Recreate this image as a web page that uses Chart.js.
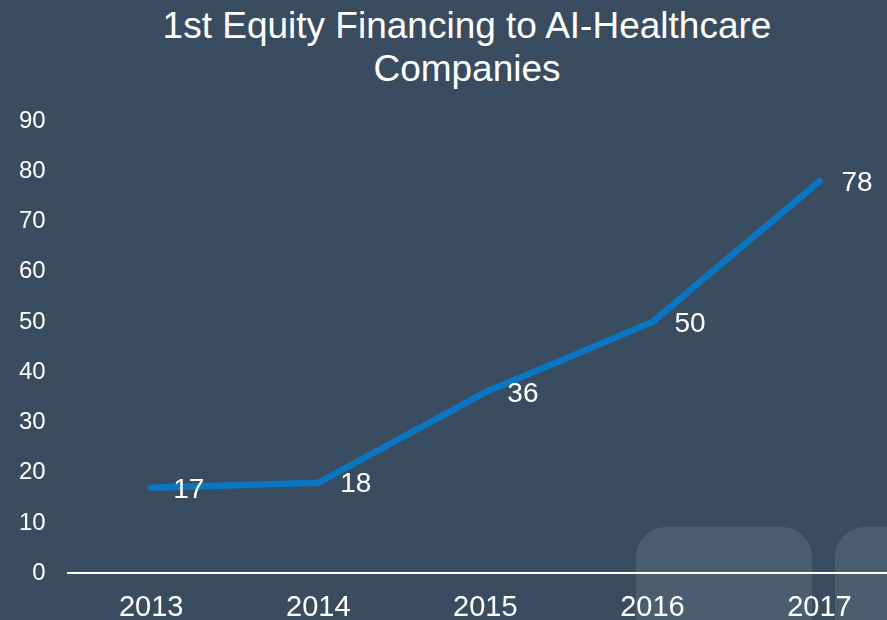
<!DOCTYPE html>
<html>
<head>
<meta charset="utf-8">
<script src="https://cdn.jsdelivr.net/npm/chart.js@4.4.1/dist/chart.umd.min.js"></script>
<style>
  html, body { margin: 0; padding: 0; overflow: hidden; background: #3a4d60; }
  body { width: 887px; height: 620px; position: relative; font-family: "Liberation Sans", Arial, sans-serif; }
  .title {
    position: absolute; left: 0; top: 4px; width: 934px;
    text-align: center; color: #fff; font-size: 37px; line-height: 43px;
  }
  .tile { position: absolute; background: #4b5e70; border-radius: 30px 30px 0 0; }
  #chartWrap { position: absolute; left: -3px; top: 0; }
</style>
</head>
<body>
<div class="tile" style="left:636px; top:527px; width:176px; height:120px;"></div>
<div class="tile" style="left:835px; top:527px; width:120px; height:120px;"></div>
<div class="title">1st Equity Financing to AI-Healthcare<br>Companies</div>
<div id="chartWrap"><canvas id="lineChart" width="906" height="642"></canvas></div>
<script>
const years = ['2013', '2014', '2015', '2016', '2017']
const financings = [17, 18, 36, 50, 78]
const yTicks = [0, 10, 20, 30, 40, 50, 60, 70, 80, 90]

// write the value beside each point
const pointLabels = {
  id: 'pointLabels',
  afterDatasetsDraw(chart) {
    const ctx = chart.ctx
    const meta = chart.getDatasetMeta(0)
    ctx.save()
    ctx.fillStyle = '#ffffff'
    ctx.font = '28px "Liberation Sans", Arial, sans-serif'
    ctx.textAlign = 'left'
    ctx.textBaseline = 'middle'
    meta.data.forEach((pt, i) => {
      ctx.fillText(financings[i], pt.x + 22, pt.y + 2)
    })
    ctx.restore()
  }
}

const data = {
  labels: years,
  datasets: [{
    label: '',
    data: financings,
    borderColor: '#0b77c3',
    borderWidth: 6.5,
    borderCapStyle: 'round',
    borderJoinStyle: 'round',
    pointRadius: 0,
    tension: 0,
    fill: false
  }]
}

const config = {
  type: 'line',
  data: data,
  options: {
    responsive: false,
    animation: false,
    layout: { padding: { top: 121, left: 0, right: 0, bottom: 0 } },
    plugins: {
      legend: { display: false },
      title: { display: false },
      tooltip: { enabled: false }
    },
    scales: {
      x: {
        offset: true,
        grid: { display: false, drawTicks: false },
        border: { display: true, color: '#ffffff', width: 2 },
        ticks: {
          color: '#ffffff',
          padding: 17,
          font: { family: '"Liberation Sans", Arial, sans-serif', size: 29 }
        }
      },
      y: {
        min: 0,
        max: 90,
        afterBuildTicks: axis => { axis.ticks = yTicks.map(v => ({ value: v })) },
        grid: { display: false, drawTicks: false },
        border: { display: false },
        ticks: {
          color: '#ffffff',
          padding: 22,
          font: { family: '"Liberation Sans", Arial, sans-serif', size: 24 }
        }
      }
    }
  },
  plugins: [pointLabels]
}

const lineChart = new Chart(document.getElementById('lineChart'), config)
</script>
</body>
</html>
